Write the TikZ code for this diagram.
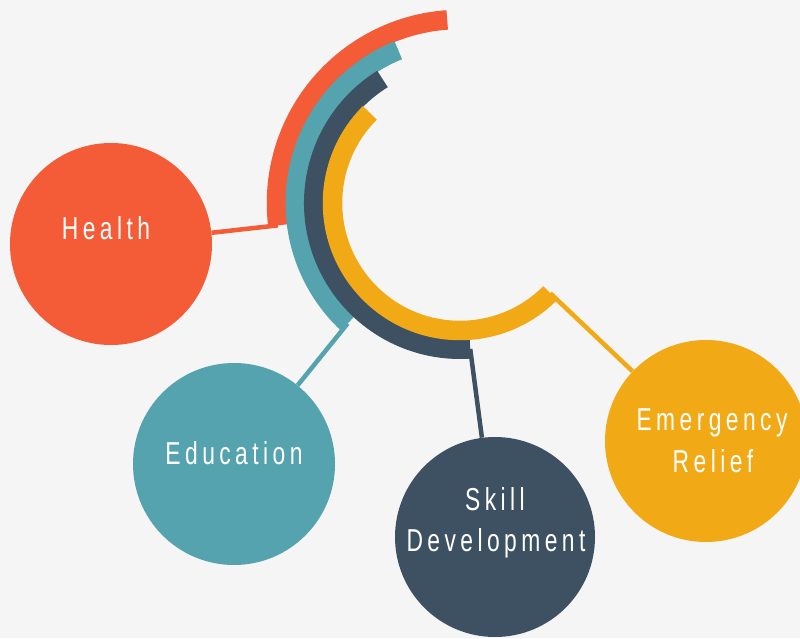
\documentclass[tikz,border=0pt]{standalone}
\usepackage{fontspec}
\newfontfamily\lblfont[FakeStretch=0.72,LetterSpace=14]{Liberation Sans}
\usetikzlibrary{calc}
\definecolor{cRed}{HTML}{F45B37}
\definecolor{cTeal}{HTML}{54A3AE}
\definecolor{cDark}{HTML}{3E5163}
\definecolor{cYel}{HTML}{F1A916}
\definecolor{bg}{HTML}{F5F5F5}
\begin{document}
\begin{tikzpicture}[x=1pt,y=1pt,
  bubble/.style={circle,minimum size=202pt,inner sep=0pt,fill=#1},
  lbl/.style={text=white,font=\lblfont\fontsize{31.7}{40}\selectfont,anchor=base,inner sep=0pt},
  link/.style={line width=4.5pt,draw=#1},
  ring/.style={line width=19.5pt,draw=#1}]
\fill[bg] (0,0) rectangle (800,638);
\useasboundingbox (0,0) rectangle (800,638);
\coordinate (C) at (460,435);
\coordinate (redend) at ($(C)+(187:183.5)$);
\coordinate (tealend) at ($(C)+(227:164.75)$);
\coordinate (darkend) at ($(C)+(274:146.25)$);
\coordinate (yelend) at ($(C)+(315:127.5)$);
% circles (positions)
\node[bubble=cRed] (health) at (111,394) {};
\node[bubble=cTeal] (education) at (234,174) {};
\node[bubble=cDark, minimum size=200pt] (skill) at (495,101) {};
\node[bubble=cYel] (emergency) at (706,197) {};
% connectors
\draw[link=cRed] (redend) -- (health);
\draw[link=cTeal] (tealend) -- (education);
\draw[link=cDark] (darkend) -- (skill);
\draw[link=cYel] (yelend) -- (emergency);
% arcs
\draw[ring=cRed] ($(C)+(94:183.5)$) arc[start angle=94,end angle=187,radius=183.5];
\draw[ring=cTeal] ($(C)+(112:164.75)$) arc[start angle=112,end angle=227,radius=164.75];
\draw[ring=cDark] ($(C)+(122:146.25)$) arc[start angle=122,end angle=274,radius=146.25];
\draw[ring=cYel] ($(C)+(135:127.5)$) arc[start angle=135,end angle=315,radius=127.5];
% labels
\node[lbl] (healthtxt) at (106,398) {Health};
\node[lbl] (educationtxt) at (234,174) {Education};
\node[lbl] (skilltxt) at (495,128) {Skill};
\node[lbl] (devtxt) at (496,87) {Development};
\node[lbl] (emtxt) at (712,208) {Emergency};
\node[lbl] (reltxt) at (713,166) {Relief};
\end{tikzpicture}
\end{document}
